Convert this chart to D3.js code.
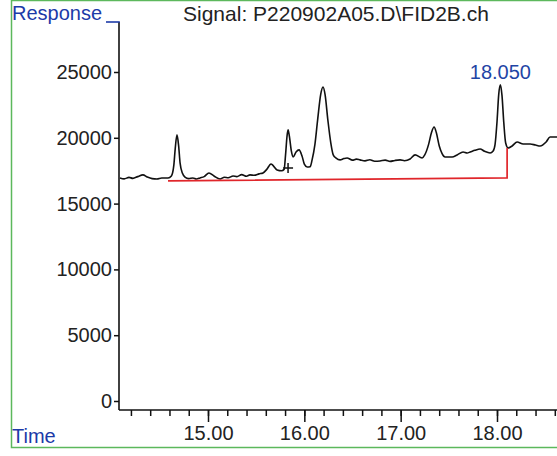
<!DOCTYPE html>
<html lang="en">
<head>
    <meta charset="UTF-8">
    <title>Signal: P220902A05.D\FID2B.ch</title>
    <script src="https://d3js.org/d3.v7.min.js"></script>
    <style>
        body { margin: 0; background: #fff; }
        svg { display: block; font-family: "Liberation Sans", Arial, sans-serif; }
        .axis path { display: none; }
        .axis line { stroke: #111; stroke-width: 1.5px; }
        .axis text { font-size: 20px; fill: #222; }
    </style>
</head>
<body>
<div id="chart"></div>

<script>
    // Chromatogram trace (retention time in min, detector response)
    const times = [14.086, 14.13, 14.18, 14.22, 14.27, 14.325, 14.37, 14.42, 14.47, 14.52,
        14.585, 14.62, 14.645, 14.66, 14.678, 14.695, 14.71, 14.735, 14.761, 14.80,
        14.844, 14.88, 14.917, 14.96, 15.01, 15.062, 15.125, 15.17, 15.21, 15.26,
        15.30, 15.35, 15.40, 15.436, 15.48, 15.53, 15.571, 15.61, 15.654, 15.717,
        15.765, 15.79, 15.805, 15.82, 15.831, 15.845, 15.865, 15.883, 15.914, 15.945,
        15.976, 16.0, 16.03, 16.06, 16.08, 16.11, 16.14, 16.17, 16.194, 16.215,
        16.245, 16.275, 16.30, 16.33, 16.371, 16.41, 16.443, 16.50, 16.54, 16.578,
        16.63, 16.68, 16.73, 16.786, 16.84, 16.89, 16.94, 16.994, 17.04, 17.098,
        17.15, 17.222, 17.25, 17.29, 17.32, 17.347, 17.37, 17.40, 17.43, 17.461,
        17.534, 17.586, 17.648, 17.69, 17.721, 17.77, 17.825, 17.87, 17.928, 17.96,
        17.98, 18.0, 18.018, 18.035, 18.052, 18.07, 18.09, 18.115, 18.157, 18.209,
        18.271, 18.344, 18.40, 18.448, 18.51, 18.551, 18.624];
    const response = [16950, 16880, 16990, 16920, 17050, 17180, 17020, 16900, 16870, 16950,
        16950, 17100, 17900, 19200, 20220, 19400, 18100, 17300, 17020, 16900,
        16950, 16870, 16950, 17050, 17330, 17100, 16870, 17000, 16960, 17100,
        17050, 17200, 17080, 17180, 17150, 17260, 17330, 17600, 18010, 17560,
        17500, 17600, 18700, 20100, 20600, 20100, 19000, 18540, 18920, 19080,
        18620, 18000, 17780, 17800, 18300, 19500, 21500, 23300, 23860, 23300,
        21300, 19600, 18700, 18450, 18320, 18420, 18470, 18300, 18380, 18320,
        18250, 18330, 18220, 18240, 18300, 18210, 18280, 18320, 18260, 18390,
        18700, 18470, 18700, 19500, 20400, 20820, 20400, 19400, 18800, 18540,
        18540, 18700, 18920, 18850, 18920, 19050, 19150, 18980, 18850, 19000,
        19500, 21200, 23300, 24020, 23200, 21200, 19600, 19230, 19380, 19680,
        19530, 19530, 19450, 19380, 19680, 20060, 20060];

    // Integration baseline (drop line at the end)
    const baseTimes = [14.585, 18.105, 18.105];
    const baseValues = [16720, 16950, 19228];

    // Marker and labelled peak
    const markTime = 15.831, markValue = 17708;
    const peakTime = 18.035, peakValue = 24020, peakLabel = "18.050";

    const yTicks = [0, 5000, 10000, 15000, 20000, 25000];
    const xMajor = [15, 16, 17, 18];
    const xMinor = d3.range(14.2, 18.61, 0.2).map(d => +d.toFixed(1));

    const width = 557, height = 456;
    const axisX = 119, axisY = 410;

    const svg = d3.select("#chart").append("svg")
        .attr("width", width)
        .attr("height", height);

    // green frame
    svg.append("rect")
        .attr("x", 11.5).attr("y", 0.5)
        .attr("width", 600).attr("height", 447)
        .attr("fill", "none")
        .attr("stroke", "#5cb85c")
        .attr("stroke-width", 1.5);

    const x = d3.scaleLinear().domain([15, 18]).range([208, 497]);
    const y = d3.scaleLinear().domain([0, 25000]).range([401, 72]);

    // axis lines
    svg.append("line")
        .attr("x1", axisX).attr("x2", axisX)
        .attr("y1", 22).attr("y2", axisY)
        .attr("stroke", "#111").attr("stroke-width", 1.6);
    svg.append("line")
        .attr("x1", axisX).attr("x2", width)
        .attr("y1", axisY).attr("y2", axisY)
        .attr("stroke", "#111").attr("stroke-width", 1.6);
    // little underline joining "Response" to the axis
    svg.append("line")
        .attr("x1", 106).attr("x2", axisX + 0.8)
        .attr("y1", 22).attr("y2", 22)
        .attr("stroke", "#1c3aa8").attr("stroke-width", 1.6);

    svg.append("g")
        .attr("class", "axis")
        .attr("transform", `translate(${axisX},0)`)
        .call(d3.axisLeft(y).tickValues(yTicks).tickSize(5).tickPadding(2).tickFormat(d3.format("d")));

    svg.append("g")
        .attr("class", "axis")
        .attr("transform", `translate(0,${axisY})`)
        .call(d3.axisBottom(x).tickValues(xMinor).tickSize(6).tickFormat(""));

    svg.append("g")
        .attr("class", "axis")
        .attr("transform", `translate(0,${axisY})`)
        .call(d3.axisBottom(x).tickValues(xMajor).tickSize(12).tickPadding(4).tickFormat(d3.format(".2f")));

    // trace
    const trace = times.map((t, i) => [t, response[i]]);
    const line = d3.line()
        .x(d => x(d[0]))
        .y(d => y(d[1]))
        .curve(d3.curveMonotoneX);

    svg.append("path")
        .datum(trace)
        .attr("d", line)
        .attr("fill", "none")
        .attr("stroke", "#111")
        .attr("stroke-width", 1.6);

    // baseline
    const base = baseTimes.map((t, i) => [t, baseValues[i]]);
    svg.append("path")
        .datum(base)
        .attr("d", d3.line().x(d => x(d[0])).y(d => y(d[1])))
        .attr("fill", "none")
        .attr("stroke", "#e0262b")
        .attr("stroke-width", 1.7);

    // "+" marker
    const mx = x(markTime), my = y(markValue);
    svg.append("path")
        .attr("d", `M${mx - 5},${my}H${mx + 5}M${mx},${my - 5}V${my + 5}`)
        .attr("stroke", "#111")
        .attr("stroke-width", 1.5);

    // texts
    svg.append("text")
        .attr("x", 183).attr("y", 21)
        .attr("font-size", 21)
        .attr("fill", "#222")
        .text("Signal: P220902A05.D\\FID2B.ch");

    svg.append("text")
        .attr("x", 12).attr("y", 20)
        .attr("font-size", 20)
        .attr("fill", "#1c3aa8")
        .text("Response");

    svg.append("text")
        .attr("x", 12).attr("y", 443)
        .attr("font-size", 20)
        .attr("fill", "#1c3aa8")
        .text("Time");

    svg.append("text")
        .attr("x", x(peakTime))
        .attr("y", y(peakValue) - 6)
        .attr("text-anchor", "middle")
        .attr("font-size", 20)
        .attr("fill", "#1f45a5")
        .text(peakLabel);
</script>
</body>
</html>
